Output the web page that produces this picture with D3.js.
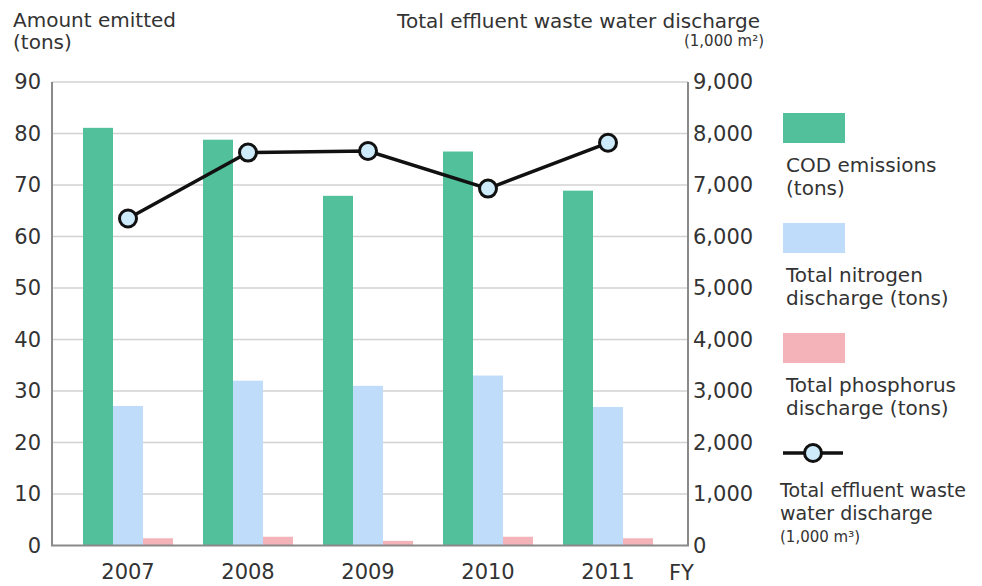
<!DOCTYPE html>
<html>
<head>
<meta charset="utf-8">
<script src="https://cdn.jsdelivr.net/npm/d3@7"></script>
<style>
  body { margin: 0; background: #fff; }
  svg text { font-family: 'DejaVu Sans', sans-serif; fill: #333; }
</style>
</head>
<body>
<div id="chart"></div>
<script>
// data
const years = ['2007', '2008', '2009', '2010', '2011'];
const codEmissions = [81.1, 78.8, 67.9, 76.5, 68.9];
const nitrogen = [27.1, 32.0, 31.0, 33.0, 26.9];
const phosphorus = [1.4, 1.7, 0.9, 1.7, 1.4];
const wasteWater = [6350, 7630, 7660, 6930, 7820];
const leftTicks = [0, 10, 20, 30, 40, 50, 60, 70, 80, 90];
const rightTicks = [0, 1000, 2000, 3000, 4000, 5000, 6000, 7000, 8000, 9000];

const seriesNames = ['cod', 'nitrogen', 'phosphorus'];
const colour = d3.scaleOrdinal()
  .domain(seriesNames)
  .range(['#52c09a', '#bfdcfb', '#f3b3b9']);

const width = 982, height = 586;
const plot = { left: 52, right: 688, top: 82, bottom: 545.5 };
const fontSize = 20;

const $svg = d3.select('#chart').append('svg')
  .attr('width', width)
  .attr('height', height);

// scales
const x0 = d3.scaleBand()
  .domain(years)
  .range([68, 668])
  .paddingInner(0.25)
  .paddingOuter(0.125);

const x1 = d3.scaleBand()
  .domain(seriesNames)
  .range([0, x0.bandwidth()]);

const y = d3.scaleLinear().domain([0, 90]).range([plot.bottom, plot.top]);
const y2 = d3.scaleLinear().domain([0, 9000]).range([plot.bottom, plot.top]);

// gridlines
$svg.append('g')
  .selectAll('line')
  .data(leftTicks.filter(d => d > 0))
  .enter()
  .append('line')
  .attr('x1', plot.left)
  .attr('x2', plot.right)
  .attr('y1', d => y(d))
  .attr('y2', d => y(d))
  .attr('stroke', '#d2d2d2')
  .attr('stroke-width', 1.5);

// bars
const rows = years.map((yr, i) => ({
  year: yr,
  values: [
    { key: 'cod', value: codEmissions[i] },
    { key: 'nitrogen', value: nitrogen[i] },
    { key: 'phosphorus', value: phosphorus[i] }
  ]
}));

$svg.append('g')
  .selectAll('g')
  .data(rows)
  .enter()
  .append('g')
  .attr('transform', d => `translate(${x0(d.year)},0)`)
  .selectAll('rect')
  .data(d => d.values)
  .enter()
  .append('rect')
  .attr('x', d => x1(d.key))
  .attr('width', x1.bandwidth())
  .attr('y', d => y(d.value))
  .attr('height', d => y(0) - y(d.value))
  .attr('fill', d => colour(d.key));

// axes
const yAxisLeft = d3.axisLeft(y).tickValues(leftTicks).tickSize(0).tickPadding(11);
const yAxisRight = d3.axisRight(y2).tickValues(rightTicks).tickSize(0).tickPadding(5)
  .tickFormat(d3.format(','));

$svg.append('g')
  .attr('transform', `translate(${plot.left},0)`)
  .call(yAxisLeft)
  .call(g => g.select('.domain').remove())
  .call(g => g.selectAll('text').attr('font-size', fontSize + 1).attr('fill', '#333'));

$svg.append('g')
  .attr('transform', `translate(${plot.right},0)`)
  .call(yAxisRight)
  .call(g => g.select('.domain').remove())
  .call(g => g.selectAll('text').attr('font-size', fontSize + 1).attr('fill', '#333'));

// frame lines: left, bottom, right
$svg.append('path')
  .attr('d', `M${plot.left},${plot.top}V${plot.bottom}H${plot.right}V${plot.top}`)
  .attr('fill', 'none')
  .attr('stroke', '#8a8a8a')
  .attr('stroke-width', 2);

const xAxis = d3.axisBottom(x0).tickSize(0).tickPadding(19);
$svg.append('g')
  .attr('transform', `translate(0,${plot.bottom})`)
  .call(xAxis)
  .call(g => g.select('.domain').remove())
  .call(g => g.selectAll('text').attr('font-size', fontSize + 1).attr('fill', '#333'));

$svg.append('text')
  .attr('x', 669)
  .attr('y', 580)
  .attr('font-size', fontSize + 1)
  .text('FY');

// line series
const line = d3.line()
  .x((d, i) => x0(years[i]) + x0.bandwidth() / 2)
  .y(d => y2(d));

$svg.append('path')
  .datum(wasteWater)
  .attr('d', line)
  .attr('fill', 'none')
  .attr('stroke', '#111')
  .attr('stroke-width', 3.5);

$svg.append('g')
  .selectAll('circle')
  .data(wasteWater)
  .enter()
  .append('circle')
  .attr('cx', (d, i) => x0(years[i]) + x0.bandwidth() / 2)
  .attr('cy', d => y2(d))
  .attr('r', 8.5)
  .attr('fill', '#cdebfb')
  .attr('stroke', '#111')
  .attr('stroke-width', 3);

// axis titles
const leftTitle = $svg.append('text').attr('font-size', fontSize);
leftTitle.append('tspan').attr('x', 13).attr('y', 27).text('Amount emitted');
leftTitle.append('tspan').attr('x', 13).attr('y', 49).text('(tons)');

$svg.append('text')
  .attr('x', 760)
  .attr('y', 28)
  .attr('text-anchor', 'end')
  .attr('font-size', fontSize)
  .text('Total effluent waste water discharge');

$svg.append('text')
  .attr('x', 764)
  .attr('y', 46)
  .attr('text-anchor', 'end')
  .attr('font-size', 15)
  .text('(1,000 m²)');

// legend
const legendRects = [
  { key: 'cod', y: 113, lines: ['COD emissions', '(tons)'] },
  { key: 'nitrogen', y: 223, lines: ['Total nitrogen', 'discharge (tons)'] },
  { key: 'phosphorus', y: 333, lines: ['Total phosphorus', 'discharge (tons)'] }
];

const $legend = $svg.append('g');

legendRects.forEach(item => {
  $legend.append('rect')
    .attr('x', 783)
    .attr('y', item.y)
    .attr('width', 62)
    .attr('height', 30)
    .attr('fill', colour(item.key));

  const t = $legend.append('text').attr('font-size', fontSize);
  item.lines.forEach((l, i) => {
    t.append('tspan')
      .attr('x', 786)
      .attr('y', item.y + 59 + i * 23)
      .text(l);
  });
});

$legend.append('line')
  .attr('x1', 783)
  .attr('x2', 843)
  .attr('y1', 453)
  .attr('y2', 453)
  .attr('stroke', '#111')
  .attr('stroke-width', 3.5);

$legend.append('circle')
  .attr('cx', 813)
  .attr('cy', 453)
  .attr('r', 8.5)
  .attr('fill', '#cdebfb')
  .attr('stroke', '#111')
  .attr('stroke-width', 3);

const lt = $legend.append('text').attr('font-size', 19);
lt.append('tspan').attr('x', 780).attr('y', 497).text('Total effluent waste');
lt.append('tspan').attr('x', 780).attr('y', 520).text('water discharge');

$legend.append('text')
  .attr('x', 780)
  .attr('y', 542)
  .attr('font-size', 15)
  .text('(1,000 m³)');
</script>
</body>
</html>
